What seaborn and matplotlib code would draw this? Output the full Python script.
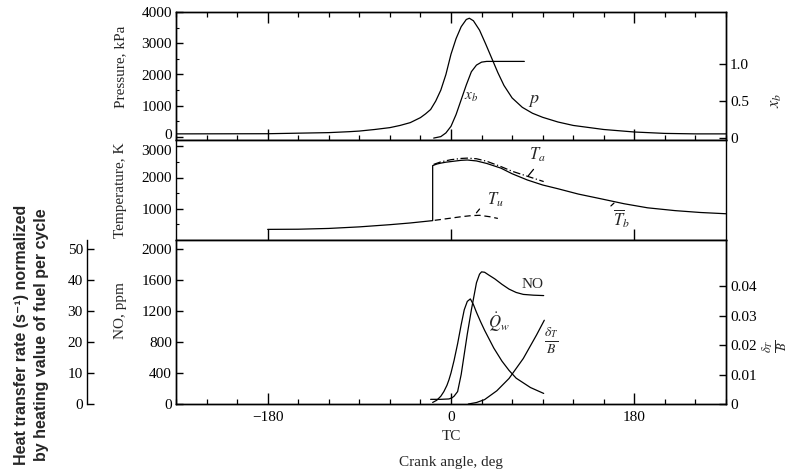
import matplotlib
matplotlib.use("Agg")
import matplotlib.pyplot as plt
from matplotlib.ticker import MultipleLocator, FixedLocator
import matplotlib.transforms as mtransforms
import pandas as pd
import seaborn as sns

# ---------------- data ----------------
crank_p = [-270, -180, -120, -100, -90, -75, -60, -50, -40, -35, -30, -25, -20, -15, -10, -5,
           0, 5, 10, 15, 18, 22, 28, 34, 40, 46, 52, 60, 70, 80, 90, 105, 120, 150, 180,
           210, 240, 270]
pressure_kpa = [100, 105, 140, 170, 190, 240, 300, 370, 460, 540, 620, 740, 880, 1150, 1500,
                2000, 2650, 3150, 3530, 3760, 3800, 3720, 3420, 2980, 2520, 2060, 1650, 1250,
                950, 760, 630, 480, 370, 240, 160, 115, 100, 100]

crank_xb = [-17, -10, -5, 0, 5, 10, 15, 20, 25, 30, 35, 45, 72]
burned_fraction = [0, 0.02, 0.07, 0.16, 0.32, 0.52, 0.72, 0.90, 0.99, 1.03, 1.04, 1.04, 1.04]

crank_tb = [-180, -150, -120, -90, -60, -40, -18, -18, -14, -10, -5, 0, 10, 16, 25, 35, 49,
            60, 75, 90, 105, 125, 147, 170, 193, 220, 245, 270]
temp_tb = [340, 345, 370, 420, 490, 545, 620, 2380, 2430, 2460, 2490, 2510, 2550, 2560, 2530,
           2450, 2300, 2120, 1920, 1760, 1640, 1470, 1320, 1160, 1030, 940, 880, 840]

crank_ta = [-17, -10, 0, 10, 16, 25, 35, 49, 60, 75, 91]
temp_ta = [2420, 2500, 2570, 2610, 2620, 2600, 2520, 2350, 2200, 2040, 1870]

crank_tu = [-16, 0, 10, 20, 28, 38, 46]
temp_tu = [630, 700, 745, 780, 790, 745, 690]

crank_no = [-20, -10, -2, 1, 3, 6.5, 10, 13, 16, 20, 25, 28, 30, 33, 37, 43, 50, 57, 64, 71,
            81, 91]
no_ppm = [60, 60, 65, 80, 100, 160, 380, 640, 900, 1210, 1560, 1670, 1700, 1695, 1660, 1610,
          1540, 1478, 1435, 1410, 1400, 1395]

crank_qw = [-18, -14, -10, -7, -4, -2, 0, 3, 6.5, 10, 13, 16, 19, 22, 25, 29, 33, 42, 50,
            57, 64, 78, 91]
heat_transfer = [0.5, 1.2, 2.5, 4, 6, 7.8, 10, 14, 19.4, 25.5, 30.3, 33, 33.8, 32, 29.5,
                 26.5, 23.7, 18, 13.8, 10.8, 8.3, 5.3, 3.4]

crank_delta = [17, 25, 33, 45, 57, 71, 84, 91.6]
delta_over_b = [0, 0.0005, 0.0015, 0.0045, 0.0087, 0.0155, 0.0235, 0.0285]

x_ticks = [-180, 0, 180]
x_tick_labels = ["\u2212180", "0", "180"]
p_ticks = [0, 1000, 2000, 3000, 4000]
t_ticks = [1000, 2000, 3000]
no_ticks = [0, 400, 800, 1200, 1600, 2000]
hq_ticks = [0, 10, 20, 30, 40, 50]
xb_ticks = [0, 0.5, 1.0]
xb_tick_labels = ["0", "0.5", "1.0"]
d_ticks = [0, 0.01, 0.02, 0.03, 0.04]
d_tick_labels = ["0", "0.01", "0.02", "0.03", "0.04"]

# ---------------- style ----------------
sns.set_theme(style="ticks")
plt.rcParams['font.family'] = ['Liberation Serif', 'DejaVu Serif']
plt.rcParams['mathtext.fontset'] = 'stix'
plt.rcParams['axes.linewidth'] = 1.0
plt.rcParams['axes.edgecolor'] = 'black'
plt.rcParams['xtick.color'] = 'black'
plt.rcParams['ytick.color'] = 'black'

FS = 11
fig = plt.figure(figsize=(7.99, 4.72), dpi=100)
L, W = 176 / 799, 550 / 799


def fy(y):
    return 1 - y / 472


ax_p = fig.add_axes([L, fy(140), W, 128 / 472])
ax_t = fig.add_axes([L, fy(240), W, 100 / 472], sharex=ax_p)
ax_n = fig.add_axes([L, fy(404), W, 164 / 472], sharex=ax_p)
ax_h = fig.add_axes([87 / 799, fy(404), 0.0005, 164 / 472])

ax_xb = ax_p.twinx()
ax_d = ax_n.twinx()
ax_q = ax_n.twinx()

line_kw = dict(color='black', linewidth=0.9, sort=False, estimator=None)

sns.lineplot(data=pd.DataFrame({'c': crank_p, 'v': pressure_kpa}), x='c', y='v', ax=ax_p, **line_kw)
sns.lineplot(data=pd.DataFrame({'c': crank_xb, 'v': burned_fraction}), x='c', y='v', ax=ax_xb, **line_kw)
sns.lineplot(data=pd.DataFrame({'c': crank_tb, 'v': temp_tb}), x='c', y='v', ax=ax_t, **line_kw)
sns.lineplot(data=pd.DataFrame({'c': crank_ta, 'v': temp_ta}), x='c', y='v', ax=ax_t,
             linestyle=(0, (6, 2, 1, 2)), **line_kw)
sns.lineplot(data=pd.DataFrame({'c': crank_tu, 'v': temp_tu}), x='c', y='v', ax=ax_t,
             linestyle=(0, (5, 3)), **line_kw)
sns.lineplot(data=pd.DataFrame({'c': crank_no, 'v': no_ppm}), x='c', y='v', ax=ax_n, **line_kw)
sns.lineplot(data=pd.DataFrame({'c': crank_qw, 'v': heat_transfer}), x='c', y='v', ax=ax_q, **line_kw)
sns.lineplot(data=pd.DataFrame({'c': crank_delta, 'v': delta_over_b}), x='c', y='v', ax=ax_d, **line_kw)

# ---------------- limits ----------------
ax_p.set_xlim(-270, 270)
ax_p.set_ylim(-96, 4000)
ax_xb.set_ylim(-0.026, 1.71)
ax_t.set_ylim(0, 3200)
ax_n.set_ylim(0, 2110)
ax_q.set_ylim(0, 52.75)
ax_h.set_ylim(0, 52.75)
ax_d.set_ylim(0, 0.0558)

for a in [ax_p, ax_t, ax_n, ax_xb, ax_d, ax_q, ax_h]:
    a.set_xlabel("")
    a.set_ylabel("")

# ---------------- x ticks ----------------
for a in [ax_p, ax_t, ax_n]:
    a.xaxis.set_major_locator(FixedLocator(x_ticks))
    a.xaxis.set_minor_locator(MultipleLocator(30))
    a.tick_params(axis='x', which='major', direction='in', length=8, width=1)
    a.tick_params(axis='x', which='minor', direction='in', length=3.5, width=0.9)
ax_p.tick_params(axis='x', which='both', top=True, labelbottom=False)
ax_t.tick_params(axis='x', which='minor', length=0)
ax_t.tick_params(axis='x', labelbottom=False)
ax_n.set_xticks(x_ticks, x_tick_labels)
ax_n.tick_params(axis='x', which='major', labelsize=FS, pad=5)

# ---------------- y ticks ----------------
ax_p.set_yticks(p_ticks)
ax_p.yaxis.set_minor_locator(MultipleLocator(500))
ax_t.set_yticks(t_ticks)
ax_t.yaxis.set_minor_locator(MultipleLocator(500))
ax_n.set_yticks(no_ticks)
for a in [ax_p, ax_t, ax_n]:
    a.tick_params(axis='y', which='major', direction='in', length=5, width=1, labelsize=FS, pad=3)
    a.tick_params(axis='y', which='minor', direction='in', length=2.5, width=0.8)

ax_xb.set_yticks(xb_ticks, xb_tick_labels)
ax_d.set_yticks(d_ticks, d_tick_labels)
for a in [ax_xb, ax_d]:
    a.tick_params(axis='y', direction='in', length=5, width=1, labelsize=FS, pad=3)

# nudge the pressure "0" up and the temperature "3000" down so they do not collide
up = mtransforms.ScaledTranslation(0, 2.5 / 72, fig.dpi_scale_trans)
down = mtransforms.ScaledTranslation(0, -2.5 / 72, fig.dpi_scale_trans)
lab0 = ax_p.get_yticklabels()[0]
lab0.set_transform(lab0.get_transform() + up)
lab3 = ax_t.get_yticklabels()[-1]
lab3.set_transform(lab3.get_transform() + down)

ax_q.set_yticks([])
ax_q.axis('off')

# heat transfer axis
for s in ['top', 'right', 'bottom']:
    ax_h.spines[s].set_visible(False)
ax_h.set_xticks([])
ax_h.set_yticks(hq_ticks)
ax_h.tick_params(axis='y', direction='in', length=5, width=1, labelsize=FS, pad=3)
ax_h.patch.set_alpha(0)

# ---------------- axis labels ----------------
ax_p.set_ylabel("Pressure, kPa", fontsize=FS)
ax_t.set_ylabel("Temperature, K", fontsize=FS)
ax_n.set_ylabel("NO, ppm", fontsize=FS)
for a, yc in [(ax_p, 0.57), (ax_t, 0.5), (ax_n, 0.567)]:
    a.yaxis.label.set_va('center')
    a.yaxis.set_label_coords(-0.1, yc)

ax_xb.set_ylabel("$x_b$", fontsize=FS + 1)
ax_d.set_ylabel(r"$\frac{\delta_T}{B}$", fontsize=FS + 2)
for a, yc in [(ax_xb, 0.31), (ax_d, 0.35)]:
    a.yaxis.label.set_va('center')
    a.yaxis.set_label_coords(1.09, yc)

ax_n.set_xlabel("Crank angle, deg", fontsize=FS)
ax_n.xaxis.label.set_va('center')
ax_n.xaxis.set_label_coords(0.5, -0.354)
trans = mtransforms.blended_transform_factory(ax_n.transData, ax_n.transAxes)
ax_n.text(0, -0.2, "TC", transform=trans, ha='center', va='center', fontsize=FS)

fig.text(0.0395, 0.29,
         "Heat transfer rate (s\u207b\u00b9) normalized\nby heating value of fuel per cycle",
         rotation=90, ha='center', va='center', multialignment='center',
         fontsize=11.5, fontweight='bold', family=['Liberation Sans', 'DejaVu Sans'],
         linespacing=1.45)

# ---------------- curve labels ----------------
ax_p.text(20, 1250, "$x_b$", fontsize=FS, ha='center', va='center')
ax_p.text(81, 1180, "$p$", fontsize=FS + 2, ha='center', va='center')
ax_t.text(85, 2725, "$T_a$", fontsize=FS + 1, ha='center', va='center')
ax_t.text(44, 1275, "$T_u$", fontsize=FS + 1, ha='center', va='center')
ax_t.text(167, 690, r"$\overline{T}_b$", fontsize=FS + 1, ha='center', va='center')
ax_n.text(80, 1540, "NO", fontsize=FS, ha='center', va='center')
ax_n.text(47, 1057, r"$\dot{Q}_w$", fontsize=FS + 1, ha='center', va='center')
ax_n.text(98, 815, r"$\frac{\delta_T}{B}$", fontsize=FS + 3, ha='center', va='center')

lead = dict(arrowstyle='-', color='black', lw=0.9, shrinkA=0, shrinkB=0)
ax_t.annotate("", xy=(76, 2060), xytext=(81, 2260), arrowprops=lead)
ax_t.annotate("", xy=(25, 870), xytext=(28, 990), arrowprops=lead)
ax_t.annotate("", xy=(157, 1090), xytext=(160, 1180), arrowprops=lead)

fig.savefig("out.png", dpi=100)
